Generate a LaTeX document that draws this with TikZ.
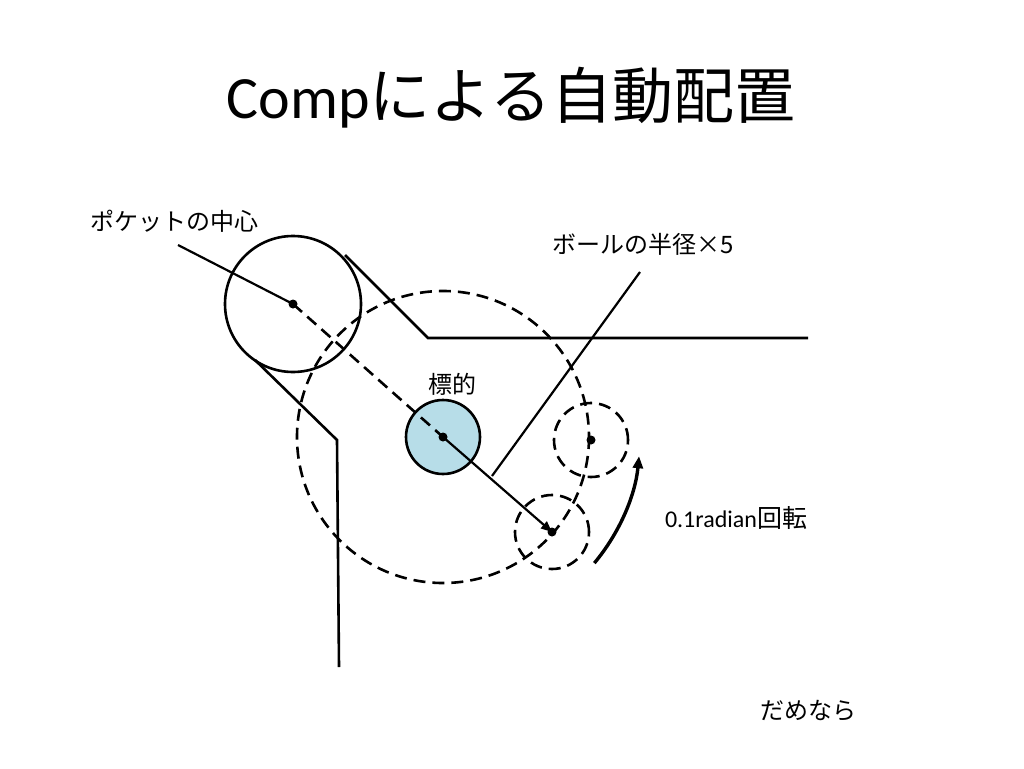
\documentclass[tikz,border=0pt]{standalone}
\usepackage{fontspec}
\setmainfont{Carlito}
\newfontfamily\cjk{Noto Sans CJK JP}
\usetikzlibrary{arrows.meta,calc}
\definecolor{targetfill}{RGB}{183,221,232}
\begin{document}
\begin{tikzpicture}[x=1pt,y=-1pt,
  solidline/.style={line width=2.6pt},
  thinline/.style={line width=2.2pt},
  dashline/.style={line width=2.6pt, dash pattern=on 12pt off 7pt},
  dotnode/.style={circle, fill=black, inner sep=0pt, minimum size=9pt},
  ball/.style={circle, inner sep=0pt, minimum size=74pt, line width=2.6pt},
  lbl/.style={font=\fontsize{24}{26}\selectfont\cjk, inner sep=0pt, anchor=base},
  lbllatin/.style={font=\fontsize{24}{26}\selectfont, inner sep=0pt, anchor=base}]
\useasboundingbox[fill=white] (0,0) rectangle (1024,768);

% title
\node[inner sep=0pt, anchor=base] (title) at (511,118)
  {{\fontsize{60}{64}\selectfont Comp}{\fontsize{61}{64}\selectfont\cjk による自動配置}};

% centres
\coordinate (tc) at (443,437);

% big dashed circle (rotation path)
\draw[dashline] (tc) circle[radius=146];

% pocket
\node[circle, draw, inner sep=0pt, minimum size=136pt, line width=2.6pt] (pocket) at (293,304) {};

% target ball
\node[ball, fill=targetfill, draw] (target) at (tc) {};

% ghost balls
\node[ball, draw, dashline] (ghostA) at (552,532) {};
\node[ball, draw, dashline] (ghostB) at (591,440) {};

% rails
\coordinate (ru1) at (345,255);
\coordinate (ru2) at (428,338);
\coordinate (ru3) at (808,338);
\coordinate (rl1) at (255,360);
\coordinate (rl2) at (337,440);
\coordinate (rl3) at (339,667);
\draw[solidline] (ru1) -- (ru2) -- (ru3);
\draw[solidline] (rl1) -- (rl2) -- (rl3);

% aiming line
\draw[dashline] (pocket.center) -- (target.center);
\draw[thinline, -{Triangle[length=11pt,width=9pt]}] (target.center) -- (ghostA.center);

% dots
\node[dotnode] (dp) at (pocket.center) {};
\node[dotnode] (dt) at (target.center) {};
\node[dotnode] (dA) at (ghostA.center) {};
\node[dotnode] (dB) at (ghostB.center) {};

% labels and leaders
\node[lbl] (lpocket) at (174,230) {ポケットの中心};
\coordinate (lpe) at (178,245);
\draw[thinline] (lpe) -- (pocket.center);

\node[lbl] (lradius) at (643,253) {ボールの半径×5};
\coordinate (lr1) at (640,272);
\coordinate (lr2) at (492,476);
\draw[thinline] (lr1) -- (lr2);

\node[lbl] (ltarget) at (452,393) {標的};

\node[inner sep=0pt, anchor=base] (lrot) at (736,527)
  {{\fontsize{24}{26}\selectfont 0.1radian}{\fontsize{25}{26}\selectfont\cjk 回転}};

\node[lbl] (lfail) at (808,719) {だめなら};

% rotation arrow
\draw[line width=3.4pt, -{Triangle[length=12pt,width=10pt]}]
  ($(tc)+(39.8:197)$) arc[start angle=39.8, end angle=5.6, radius=197];
\end{tikzpicture}
\end{document}
